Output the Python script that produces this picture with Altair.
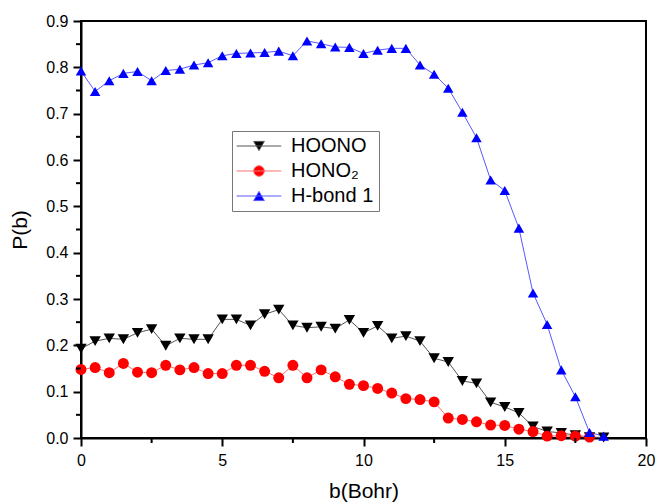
import altair as alt
import pandas as pd

# ---------------- data ----------------
b_values = [0.0, 0.5, 1.0, 1.5, 2.0, 2.5, 3.0, 3.5, 4.0, 4.5,
            5.0, 5.5, 6.0, 6.5, 7.0, 7.5, 8.0, 8.5, 9.0, 9.5,
            10.0, 10.5, 11.0, 11.5, 12.0, 12.5, 13.0, 13.5, 14.0, 14.5,
            15.0, 15.5, 16.0, 16.5, 17.0, 17.5, 18.0, 18.5]

hoono = [0.193, 0.209, 0.215, 0.213, 0.227, 0.235, 0.199, 0.215, 0.213, 0.213,
         0.256, 0.256, 0.243, 0.267, 0.277, 0.243, 0.238, 0.240, 0.236, 0.255,
         0.227, 0.242, 0.215, 0.220, 0.209, 0.172, 0.164, 0.123, 0.118, 0.077,
         0.067, 0.054, 0.025, 0.014, 0.011, 0.006, 0.002, 0.001]

hono2 = [0.148, 0.152, 0.141, 0.161, 0.142, 0.141, 0.157, 0.147, 0.152, 0.139,
         0.139, 0.157, 0.157, 0.144, 0.130, 0.157, 0.130, 0.147, 0.132, 0.116,
         0.113, 0.107, 0.097, 0.085, 0.083, 0.078, 0.043, 0.040, 0.035, 0.028,
         0.027, 0.019, 0.014, 0.004, 0.005, 0.004, 0.002]

hbond = [0.792, 0.748, 0.771, 0.787, 0.791, 0.771, 0.793, 0.796, 0.805, 0.810,
         0.825, 0.830, 0.831, 0.832, 0.835, 0.825, 0.857, 0.851, 0.844, 0.843,
         0.830, 0.837, 0.841, 0.841, 0.805, 0.785, 0.755, 0.703, 0.648, 0.557,
         0.534, 0.453, 0.313, 0.245, 0.147, 0.089, 0.012, 0.004]

series_names = ["HOONO", "HONO\u2082", "H-bond 1"]
x_major = [0, 5, 10, 15, 20]
x_minor = [2.5, 7.5, 12.5, 17.5]
y_major = [0.0, 0.1, 0.2, 0.3, 0.4, 0.5, 0.6, 0.7, 0.8, 0.9]
y_minor = [0.05, 0.15, 0.25, 0.35, 0.45, 0.55, 0.65, 0.75, 0.85]

# ---------------- styles ----------------
marker_colors = ["#000000", "#ff0000", "#0000ff"]
line_colors = ["#555555", "#ff7070", "#5858ff"]
marker_shapes = ["triangle-down", "circle", "triangle-up"]
marker_sizes = [130, 110, 130]
legend_paths = [
    "M-4.2,0H4.2M-1,-0.866L1,-0.866L0,0.866Z",
    "M-4.2,0H4.2M1,0A1,1,0,1,1,-1,0A1,1,0,1,1,1,0Z",
    "M-4.2,0H4.2M0,-0.866L1,0.866L-1,0.866Z",
]
FONT = "Liberation Sans"
PLOT_W, PLOT_H = 565, 417
MAJOR_LEN, MINOR_LEN = 8, 5

rows = []
for name, vals in zip(series_names, [hoono, hono2, hbond]):
    for bv, pv in zip(b_values, vals):
        rows.append({"b": bv, "P": pv, "series": name})
df = pd.DataFrame(rows)

x_scale = alt.Scale(domain=[0, 20], nice=False, zero=False)
y_scale = alt.Scale(domain=[0, 0.9], nice=False)

x_axis_major = alt.Axis(values=x_major, format="d", orient="bottom", ticks=True,
                        tickSize=MAJOR_LEN, tickWidth=2, tickColor="black",
                        labelFlush=False, labelPadding=6,
                        title="b(Bohr)", titlePadding=12, grid=False,
                        domainWidth=2, labelFontSize=16, titleFontSize=21)
y_axis_major = alt.Axis(values=y_major, format=".1f", orient="left", ticks=True,
                        tickSize=MAJOR_LEN, tickWidth=2, tickColor="black",
                        labelFlush=False, labelPadding=5,
                        title="P(b)", titlePadding=15, grid=False,
                        domainWidth=2, labelFontSize=16, titleFontSize=21)

lines = alt.Chart(df).mark_line(strokeWidth=1).encode(
    x=alt.X("b:Q", scale=x_scale, axis=x_axis_major),
    y=alt.Y("P:Q", scale=y_scale, axis=y_axis_major),
    color=alt.Color("series:N", scale=alt.Scale(domain=series_names, range=line_colors), legend=None),
    detail="series:N",
)

points = alt.Chart(df).mark_point(filled=True, opacity=1, strokeWidth=0).encode(
    x=alt.X("b:Q", scale=x_scale),
    y=alt.Y("P:Q", scale=y_scale),
    color=alt.Color("series:N", scale=alt.Scale(domain=series_names, range=marker_colors), legend=None),
    shape=alt.Shape("series:N", scale=alt.Scale(domain=series_names, range=marker_shapes), legend=None),
    size=alt.Size("series:N", scale=alt.Scale(domain=series_names, range=marker_sizes), legend=None),
)


# minor ticks, placed along the shared scales just outside the frame
def x_ticks(vals, length):
    return alt.Chart(pd.DataFrame({"b": vals})).mark_tick(
        color="black", opacity=1, thickness=2, size=length).encode(
        x=alt.X("b:Q", scale=x_scale),
        y=alt.value(PLOT_H + length / 2),
    )


def y_ticks(vals, length):
    return alt.Chart(pd.DataFrame({"P": vals})).mark_tick(
        color="black", opacity=1, thickness=2, size=length).encode(
        y=alt.Y("P:Q", scale=y_scale),
        x=alt.value(-length / 2),
    )


leg = alt.Legend(title=None, orient="none", legendX=151, legendY=110,
                 strokeColor="#777777", padding=5, symbolSize=113, symbolStrokeWidth=1,
                 symbolOffset=12, labelOffset=22, rowPadding=5,
                 labelFont=FONT, labelFontSize=20, labelColor="black")

legend_layer = alt.Chart(df).transform_filter("datum.b < 0").mark_point(
    filled=True, opacity=1, strokeWidth=1).encode(
    x=alt.X("b:Q", scale=x_scale),
    y=alt.Y("P:Q", scale=y_scale),
    color=alt.Color("series:N", scale=alt.Scale(domain=series_names, range=marker_colors), legend=leg),
    stroke=alt.Stroke("series:N", scale=alt.Scale(domain=series_names, range=line_colors), legend=leg),
    shape=alt.Shape("series:N", scale=alt.Scale(domain=series_names, range=legend_paths), legend=leg),
)

chart = alt.layer(
    lines, points, legend_layer,
    x_ticks(x_minor, MINOR_LEN), y_ticks(y_minor, MINOR_LEN),
).resolve_scale(
    color="independent", shape="independent", stroke="independent", size="independent"
).properties(
    width=PLOT_W, height=PLOT_H,
    padding={"left": 81, "top": 21, "right": 11, "bottom": 66},
    autosize=alt.AutoSizeParams(type="none"),
    background="white",
).configure_view(
    stroke="black", strokeWidth=2
).configure_axis(
    labelFont=FONT, titleFont=FONT, labelColor="black", titleColor="black",
    domainColor="black", titleFontWeight="normal"
)

chart.save("out.html", embed_options={"renderer": "svg", "actions": False})
